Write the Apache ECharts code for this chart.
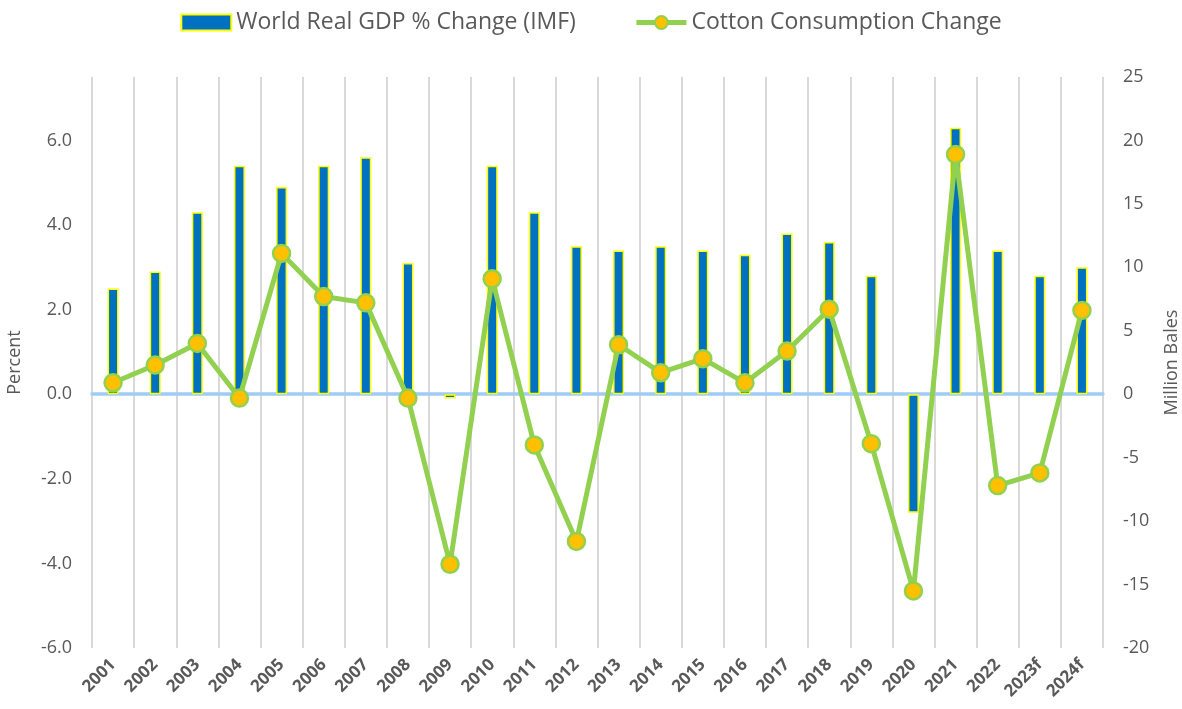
<!DOCTYPE html>
<html>
<head>
<meta charset="utf-8">
<script src="https://cdn.jsdelivr.net/npm/echarts@6/dist/echarts.min.js"></script>
<style>html,body{margin:0;padding:0;background:#fff;}#c{width:1182px;height:709px;}</style>
</head>
<body>
<div id="c"></div>
<script>
const categories = ['2001','2002','2003','2004','2005','2006','2007','2008','2009','2010','2011','2012','2013','2014','2015','2016','2017','2018','2019','2020','2021','2022','2023f','2024f'];
const gdpChange = [2.5, 2.9, 4.3, 5.4, 4.9, 5.4, 5.6, 3.1, -0.1, 5.4, 4.3, 3.5, 3.4, 3.5, 3.4, 3.3, 3.8, 3.6, 2.8, -2.8, 6.3, 3.4, 2.8, 3.0];
const cottonChange = [0.9, 2.3, 4.0, -0.3, 11.1, 7.7, 7.2, -0.3, -13.4, 9.1, -4.0, -11.6, 3.9, 1.7, 2.8, 0.9, 3.4, 6.7, -3.9, -15.5, 18.9, -7.2, -6.2, 6.6];
const leftTicks = {min: -6, max: 7.5, interval: 2};
const rightTicks = {min: -20, max: 25, interval: 5};

const font = '"Open Sans", "Noto Sans", sans-serif';
const chart = echarts.init(document.getElementById('c'));
chart.setOption({
  animation: false,
  textStyle: {fontFamily: font},
  legend: {
    top: 6, left: 'center', itemGap: 58, itemWidth: 50, itemHeight: 16,
    textStyle: {fontSize: 23, color: '#595959', fontFamily: font},
    data: [
      {name: 'World Real GDP % Change (IMF)', icon: 'rect'},
      {name: 'Cotton Consumption Change', lineStyle: {width: 5, color: '#92d050'}}
    ]
  },
  grid: {left: 92, right: 79, top: 77, bottom: 61, containLabel: false, outerBoundsMode: 'none'},
  xAxis: {
    type: 'category', data: categories, boundaryGap: true,
    axisLine: {show: true, onZero: true, lineStyle: {color: '#9fcbf7', width: 3.5}},
    axisTick: {show: false},
    splitLine: {show: true, lineStyle: {color: '#d9d9d9', width: 2}},
    axisLabel: {rotate: 45, fontWeight: 'bold', fontSize: 17, color: '#595959', margin: 14, interval: 0, fontFamily: font}
  },
  yAxis: [
    {
      type: 'value', min: leftTicks.min, max: leftTicks.max, interval: leftTicks.interval,
      name: 'Percent', nameLocation: 'middle', nameGap: 68, nameRotate: 90,
      nameTextStyle: {fontSize: 18, color: '#595959', fontFamily: font},
      axisLine: {show: false}, axisTick: {show: false}, splitLine: {show: false},
      axisLabel: {fontSize: 18, color: '#595959', margin: 20, showMaxLabel: false,
        formatter: v => v.toFixed(1), fontFamily: font}
    },
    {
      type: 'value', min: rightTicks.min, max: rightTicks.max, interval: rightTicks.interval,
      name: 'Million Bales', nameLocation: 'middle', nameGap: 60, nameRotate: 90,
      nameTextStyle: {fontSize: 18, color: '#595959', fontFamily: font},
      axisLine: {show: false}, axisTick: {show: false}, splitLine: {show: false},
      axisLabel: {fontSize: 18, color: '#595959', margin: 20, fontFamily: font}
    }
  ],
  series: [
    {
      name: 'World Real GDP % Change (IMF)', type: 'bar', data: gdpChange, yAxisIndex: 0,
      barWidth: 11,
      itemStyle: {color: '#0070c0', borderColor: '#ffff00', borderWidth: 1.5}
    },
    {
      name: 'Cotton Consumption Change', type: 'line', data: cottonChange, yAxisIndex: 1,
      symbol: 'circle', symbolSize: 17,
      lineStyle: {color: '#92d050', width: 5},
      itemStyle: {color: '#ffc000', borderColor: '#92d050', borderWidth: 2.5}
    }
  ]
});
</script>
</body>
</html>
